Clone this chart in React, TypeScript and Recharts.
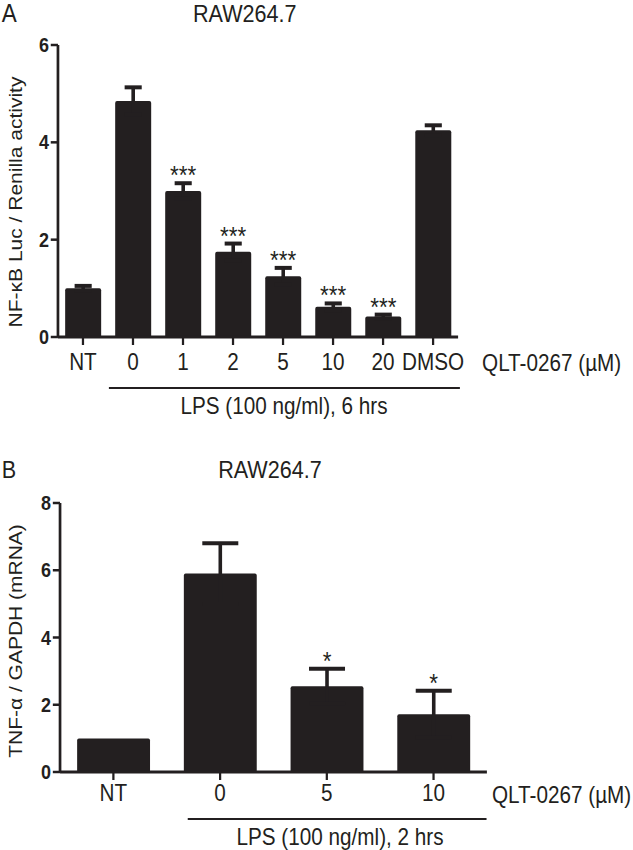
import { Bar, BarChart, ErrorBar, LabelList, XAxis, YAxis } from 'recharts';

const INK = '#231f20';
const FONT = '"Liberation Sans", Arial, Helvetica, sans-serif';
// the source figure is squeezed sideways, so draw wide and squeeze back
const SQUEEZE = 0.9;
const W = 703;

const doseA = ['NT', '0', '1', '2', '5', '10', '20', 'DMSO'];
const lucA = [1.0, 4.85, 3.0, 1.75, 1.25, 0.62, 0.42, 4.25];
const semA = [0.05, 0.28, 0.16, 0.17, 0.17, 0.07, 0.04, 0.1];
const sigA = ['', '', '***', '***', '***', '***', '***', ''];
const ticksA = [0, 2, 4, 6];

const doseB = ['NT', '0', '5', '10'];
const tnfB = [1.0, 5.9, 2.55, 1.72];
const semB = [0, 0.9, 0.52, 0.7];
const sigB = ['', '', '*', '*'];
const ticksB = [0, 2, 4, 6, 8];

const dataA = doseA.map((dose, i) => ({ dose, value: lucA[i], err: semA[i] }));
const dataB = doseB.map((dose, i) => ({ dose, value: tnfB[i], err: semB[i] }));

function stars(vals: number[], errs: number[], marks: string[], size: number) {
  return (props: any) => {
    const { x, y, width, height, index } = props;
    const mark = marks[index];
    if (!mark) return null;
    const capY = y - (errs[index] * Math.abs(height)) / vals[index];
    return (
      <text x={x + width / 2} y={capY + 1} textAnchor="middle" fontSize={size} fill={INK} fontFamily={FONT}>
        {mark}
      </text>
    );
  };
}

const axisLine = { stroke: INK, strokeWidth: 3 };
const tickLine = { stroke: INK, strokeWidth: 2.5 };
const xTick = { fill: INK, fontSize: 23, fontFamily: FONT };
const yTick = { fill: INK, fontSize: 20, fontWeight: 700, fontFamily: FONT };

export default function App() {
  return (
    <div
      style={{
        position: 'absolute',
        left: 0,
        top: 0,
        width: W,
        height: 850,
        background: '#fff',
        transform: `scaleX(${SQUEEZE})`,
        transformOrigin: '0 0',
        fontFamily: FONT,
      }}
    >
      <div style={{ position: 'absolute', left: 0, top: 0 }}>
        <BarChart width={W} height={420} data={dataA} margin={{ top: 45, right: 194, bottom: 53, left: 0 }}>
          <XAxis
            dataKey="dose"
            height={30}
            interval={0}
            axisLine={axisLine}
            tickLine={tickLine}
            tickSize={8}
            tickMargin={9}
            tick={xTick}
          />
          <YAxis
            width={64.4}
            domain={[0, 6]}
            ticks={ticksA}
            axisLine={axisLine}
            tickLine={tickLine}
            tickSize={8}
            tickMargin={2}
            tick={yTick}
          />
          <Bar dataKey="value" fill={INK} barSize={40} radius={[2, 2, 0, 0]} isAnimationActive={false}>
            <ErrorBar dataKey="err" direction="y" width={9.5} strokeWidth={4} stroke={INK} />
            <LabelList dataKey="value" content={stars(lucA, semA, sigA, 25)} />
          </Bar>
        </BarChart>
      </div>

      <div style={{ position: 'absolute', left: 0, top: 440 }}>
        <BarChart width={W} height={410} data={dataB} margin={{ top: 63, right: 162, bottom: 48, left: 0 }}>
          <XAxis
            dataKey="dose"
            height={30}
            interval={0}
            axisLine={axisLine}
            tickLine={tickLine}
            tickSize={8}
            tickMargin={5}
            tick={xTick}
          />
          <YAxis
            width={66.7}
            domain={[0, 8]}
            ticks={ticksB}
            axisLine={axisLine}
            tickLine={tickLine}
            tickSize={8}
            tickMargin={2}
            tick={yTick}
          />
          <Bar dataKey="value" fill={INK} barSize={81} radius={[2, 2, 0, 0]} isAnimationActive={false}>
            <ErrorBar dataKey="err" direction="y" width={20} strokeWidth={4} stroke={INK} />
            <LabelList dataKey="value" content={stars(tnfB, semB, sigB, 25)} />
          </Bar>
        </BarChart>
      </div>

      <svg width={W} height={850} style={{ position: 'absolute', left: 0, top: 0, pointerEvents: 'none' }}>
        <g fill={INK} fontFamily={FONT}>
          <text x={2} y={21.7} fontSize={25}>A</text>
          <text x={272} y={21.7} fontSize={24} textAnchor="middle">RAW264.7</text>
          <text transform="translate(24,202) rotate(-90)" fontSize={21} textAnchor="middle">
            NF-κB Luc / Renilla activity
          </text>
          <text x={535.6} y={371} fontSize={23}>QLT-0267 (µM)</text>
          <line x1={121} x2={511} y1={388} y2={388} stroke={INK} strokeWidth={2} />
          <text x={315.6} y={414} fontSize={23} textAnchor="middle">LPS (100 ng/ml), 6 hrs</text>

          <text x={2} y={478} fontSize={24}>B</text>
          <text x={300} y={478} fontSize={24} textAnchor="middle">RAW264.7</text>
          <text transform="translate(24,641) rotate(-90)" fontSize={21} textAnchor="middle">
            TNF-α / GAPDH (mRNA)
          </text>
          <text x={546.7} y={803} fontSize={23}>QLT-0267 (µM)</text>
          <line x1={208.6} x2={540.6} y1={819} y2={819} stroke={INK} strokeWidth={2} />
          <text x={377.8} y={845} fontSize={23} textAnchor="middle">LPS (100 ng/ml), 2 hrs</text>
        </g>
      </svg>
    </div>
  );
}
